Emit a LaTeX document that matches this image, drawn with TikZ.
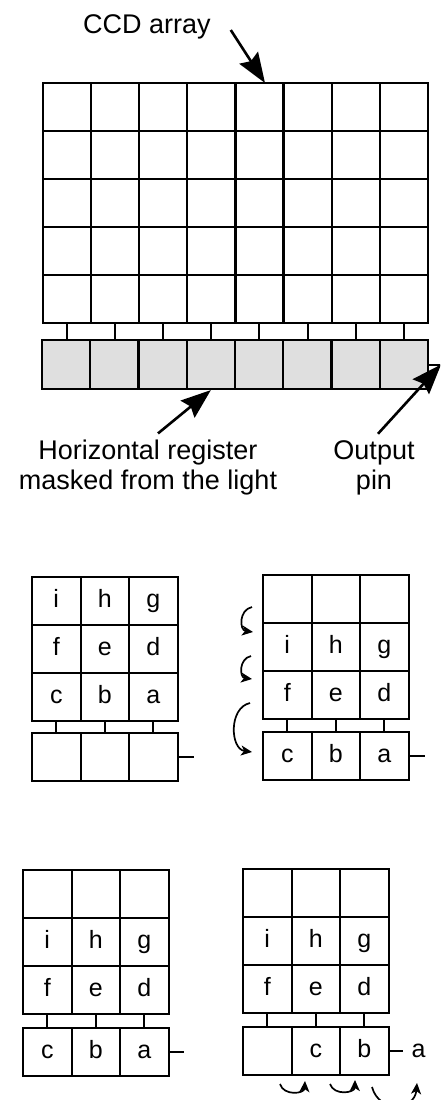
\documentclass[tikz,border=0pt]{standalone}
\usepackage{fontspec}
\setmainfont{Liberation Sans}
\usetikzlibrary{arrows.meta,positioning,calc}

\begin{document}
\begin{tikzpicture}[x=1pt,y=-1pt,>=Stealth,line width=2pt]
\tikzstyle{cell}=[draw,line width=2pt,minimum width=48.5pt,minimum height=48pt,inner sep=0pt,text height=17pt,text depth=5pt,font=\fontsize{25}{28}\selectfont]
\tikzstyle{big}=[draw,line width=2.2pt,minimum width=48.1pt,minimum height=48pt,inner sep=0pt]
\tikzstyle{lbl}=[font=\fontsize{27}{30}\selectfont,align=center,inner sep=0pt]
\tikzstyle{fat}=[-{Stealth[length=30pt,width=22pt,inset=4pt]},line width=2.6pt]
\tikzstyle{curl}=[-{Stealth[length=11pt,width=10pt,inset=3pt]},line width=1.7pt]
\useasboundingbox (0,0) rectangle (440,1100);
\clip (0,0) rectangle (440,1100);

% CCD array with its horizontal register
\foreach \c in {0,...,7}{
  \foreach \r in {0,...,4}
    \node[big] (a-\r-\c) at (67.05+48.1*\c,107+48*\r) {};
  \node[big,minimum width=48.25pt,minimum height=49pt,fill=gray!25] (r-\c) at (66.1+48.25*\c,364.5) {};
  \draw (a-4-\c.south) -- (a-4-\c.south |- r-\c.north);
}
\draw (r-7.east) -- ++(12,0) coordinate (pin);

\node[lbl] (ccd) at (147,27) {CCD array};
\node[lbl] (hreg) at (148,468) {Horizontal register\\masked from the light};
\node[lbl] (outp) at (374,468) {Output\\pin};
\coordinate (ccdtip) at (265,83);
\draw[fat] ([shift={(19,3)}]ccd.east) -- (ccdtip);
\draw[fat] ([shift={(10,-6)}]hreg.north) -- (r-3.south);
\draw[fat] ([shift={(4,-6)}]outp.north) -- (pin);

% step 1: image in the array
\foreach \t [count=\k from 0] in {i,h,g,f,e,d,c,b,a}{
  \pgfmathtruncatemacro\r{\k/3}
  \pgfmathtruncatemacro\c{mod(\k,3)}
  \node[cell] (A-\r-\c) at (56.25+48.5*\c,601+48*\r) {\t};
}
\foreach \c in {0,1,2}{
  \node[cell] (rA-\c) at (56.25+48.5*\c,757) {};
  \draw (A-2-\c.south) -- (rA-\c.north);
}
\draw (rA-2.east) -- ++(15,0);

% step 2: rows shifted down by one
\foreach \t [count=\k from 0] in {{},{},{},i,h,g,f,e,d}{
  \pgfmathtruncatemacro\r{\k/3}
  \pgfmathtruncatemacro\c{mod(\k,3)}
  \node[cell] (B-\r-\c) at (287.25+48.5*\c,599+48*\r) {\t};
}
\foreach \t [count=\c from 0] in {c,b,a}{
  \node[cell] (rB-\c) at (287.25+48.5*\c,756) {\t};
  \draw (B-2-\c.south) -- (rB-\c.north);
}
\draw (rB-2.east) -- ++(15,0);
\coordinate (b1) at (252,607);
\coordinate (b2) at (253,632);
\coordinate (b3) at (251,656);
\coordinate (b4) at (252,679);
\coordinate (b5) at (250,703);
\coordinate (b6) at (252,752);
\draw[curl] (b1) to[bend right=80,looseness=1.4] (b2);
\draw[curl] (b3) to[bend right=80,looseness=1.4] (b4);
\draw[curl] (b5) to[bend right=80,looseness=1.15] (b6);

% step 3: register loaded
\foreach \t [count=\k from 0] in {{},{},{},i,h,g,f,e,d}{
  \pgfmathtruncatemacro\r{\k/3}
  \pgfmathtruncatemacro\c{mod(\k,3)}
  \node[cell] (C-\r-\c) at (47.25+48.5*\c,894+48*\r) {\t};
}
\foreach \t [count=\c from 0] in {c,b,a}{
  \node[cell] (rC-\c) at (47.25+48.5*\c,1052) {\t};
  \draw (C-2-\c.south) -- (rC-\c.north);
}
\draw (rC-2.east) -- ++(14,0);

% step 4: register shifted to the output pin
\foreach \t [count=\k from 0] in {{},{},{},i,h,g,f,e,d}{
  \pgfmathtruncatemacro\r{\k/3}
  \pgfmathtruncatemacro\c{mod(\k,3)}
  \node[cell] (D-\r-\c) at (267.25+48.5*\c,893+48*\r) {\t};
}
\foreach \t [count=\c from 0] in {{},c,b}{
  \node[cell] (rD-\c) at (267.25+48.5*\c,1051) {\t};
  \draw (D-2-\c.south) -- (rD-\c.north);
}
\draw (rD-2.east) -- ++(13,0) coordinate (pinD);
\node[cell,draw=none,minimum width=0pt,minimum height=0pt,anchor=west,right=8pt of pinD] (outa) {a};
\coordinate (d1) at (280,1084);
\coordinate (d2) at (305,1081);
\coordinate (d3) at (330,1084);
\coordinate (d4) at (355,1080);
\coordinate (d5) at (372,1087);
\coordinate (d6) at (417,1083);
\draw[curl] (d1) to[bend right=80,looseness=1.3] (d2);
\draw[curl] (d3) to[bend right=80,looseness=1.3] (d4);
\draw[curl] (d5) to[bend right=80,looseness=1.55] (d6);
\end{tikzpicture}
\end{document}
